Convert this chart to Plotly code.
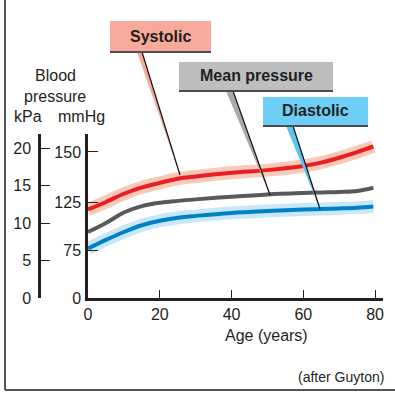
import plotly.graph_objects as go

# ---------------- data (kPa) ----------------
age = [0, 5, 10, 15, 20, 25, 30, 40, 50, 60, 65, 70, 75, 79.5]
systolic_kpa = [11.8, 12.8, 13.9, 14.75, 15.35, 15.9, 16.2, 16.7, 17.05, 17.6, 18.05, 18.7, 19.45, 20.2]
mean_kpa =     [8.8, 10.0, 11.4, 12.25, 12.7, 12.95, 13.15, 13.5, 13.8, 14.0, 14.08, 14.15, 14.27, 14.7]
diastolic_kpa = [6.6, 7.75, 8.8, 9.7, 10.3, 10.7, 10.95, 11.35, 11.6, 11.8, 11.87, 11.95, 12.05, 12.2]

x_ticks = [0, 20, 40, 60, 80]
kpa_ticks = [0, 5, 10, 15, 20]
mmhg_tick_labels = ["0", "75", "125", "150"]
mmhg_tick_at_kpa = [0, 6.4, 12.8, 19.47]   # where the schematic mmHg labels sit on the kPa scale

FONT = "Liberation Sans, Arial, Helvetica, sans-serif"
INK = "#231f20"

# plot-area geometry in pixels
L, T, W, H = 39, 0, 344, 298


def px(x):
    return (x - L) / W


def py(y):
    return (T + H - y) / H


fig = go.Figure()

# halos
fig.add_trace(go.Scatter(x=age, y=systolic_kpa, mode="lines", line=dict(color="#f9cab6", width=13, shape="spline"),
                         hoverinfo="skip", showlegend=False))
fig.add_trace(go.Scatter(x=age, y=diastolic_kpa, mode="lines", line=dict(color="#c8e8f9", width=13, shape="spline"),
                         hoverinfo="skip", showlegend=False))
# main lines
fig.add_trace(go.Scatter(x=age, y=systolic_kpa, mode="lines", name="Systolic",
                         line=dict(color="#ed1c24", width=4, shape="spline"), showlegend=False))
fig.add_trace(go.Scatter(x=age, y=mean_kpa, mode="lines", name="Mean pressure",
                         line=dict(color="#58595b", width=4, shape="spline"), showlegend=False))
fig.add_trace(go.Scatter(x=age, y=diastolic_kpa, mode="lines", name="Diastolic",
                         line=dict(color="#0080c6", width=4, shape="spline"), showlegend=False))
# invisible trace to activate the kPa axis
fig.add_trace(go.Scatter(x=[None], y=[None], yaxis="y2", showlegend=False, hoverinfo="skip"))

y_top_px = 134
y_range = [0, (T + H - y_top_px) / 7.5]

fig.update_layout(
    width=395, height=395,
    margin=dict(l=L, r=395 - L - W, t=T, b=395 - T - H),
    paper_bgcolor="white", plot_bgcolor="white",
    font=dict(family=FONT, color=INK, size=16),
    xaxis=dict(domain=[px(88), 1], range=[0, 82.2], tickvals=x_ticks, ticks="inside", ticklen=8,
               tickwidth=1.3, tickcolor=INK, showline=True, linewidth=2.5, linecolor=INK,
               showgrid=False, zeroline=False, tickfont=dict(size=16), ticklabelstandoff=0),
    yaxis=dict(domain=[0, py(y_top_px)], range=y_range, tickvals=mmhg_tick_at_kpa, ticktext=mmhg_tick_labels,
               ticks="inside", ticklen=10, tickwidth=1.3, tickcolor=INK, showline=True, linewidth=2.5,
               linecolor=INK, showgrid=False, zeroline=False, tickfont=dict(size=16), ticklabelstandoff=1),
    yaxis2=dict(overlaying="y", anchor="free", position=0, side="left", range=y_range, tickvals=kpa_ticks,
                ticks="inside", ticklen=9, tickwidth=1.3, tickcolor=INK, showline=True, linewidth=2.5,
                linecolor=INK, showgrid=False, zeroline=False, tickfont=dict(size=16), ticklabelstandoff=4),
)

shapes = []
# frame (left + bottom)
shapes.append(dict(type="line", xref="paper", yref="paper", x0=px(5), x1=px(5), y0=py(0), y1=py(390),
                   line=dict(color="#555555", width=2)))
shapes.append(dict(type="line", xref="paper", yref="paper", x0=px(5), x1=px(395), y0=py(390), y1=py(390),
                   line=dict(color="#555555", width=2)))

boxes = [
    ("Systolic", 110, 211, 21, 52, "#f7a99c"),
    ("Mean pressure", 179, 333, 62, 91, "#bcbec0"),
    ("Diastolic", 263, 368, 97, 126, "#6dcff6"),
]
pointers = [
    # (wedge left x, wedge right x, top y, tip x, tip y, colour)
    (137, 142, 52, 180, 175, "#f7a99c"),
    (226, 233, 91, 270, 195, "#a7a9ac"),
    (286, 293, 126, 320, 209, "#5bc5f2"),
]
for (lx, rx, ty, tx, tipy, col) in pointers:
    shapes.append(dict(type="path", xref="paper", yref="paper",
                       path=f"M {px(lx)},{py(ty)} L {px(rx)},{py(ty)} L {px(tx)},{py(tipy)} Z",
                       fillcolor=col, line=dict(width=0)))
    shapes.append(dict(type="line", xref="paper", yref="paper", x0=px(rx), y0=py(ty), x1=px(tx), y1=py(tipy),
                       line=dict(color="#111111", width=1.2)))

annotations = []
for (label, x0, x1, y0, y1, col) in boxes:
    shapes.append(dict(type="rect", xref="paper", yref="paper", x0=px(x0), x1=px(x1), y0=py(y0), y1=py(y1),
                       fillcolor=col, line=dict(width=0)))
    shapes.append(dict(type="line", xref="paper", yref="paper", x0=px(x0), x1=px(x1), y0=py(y1), y1=py(y1),
                       line=dict(color="#4d4d4f", width=1.8)))
    annotations.append(dict(xref="paper", yref="paper", x=px((x0 + x1) / 2), y=py((y0 + y1) / 2 - 0.5),
                            text=f"<b>{label}</b>", showarrow=False, xanchor="center", yanchor="middle",
                            font=dict(size=16, color=INK)))

for (txt, x, y, size) in [("Blood", 55, 76, 16), ("pressure", 55, 96, 16), ("kPa", 27.5, 116.5, 16),
                          ("mmHg", 81, 116.5, 16), ("Age (years)", 266, 335, 16),
                          ("(after Guyton)", 341, 377, 14)]:
    annotations.append(dict(xref="paper", yref="paper", x=px(x), y=py(y), text=txt, showarrow=False,
                            xanchor="center", yanchor="middle", font=dict(size=size, color=INK)))

fig.update_layout(shapes=shapes, annotations=annotations)

fig.write_html("out.html", config={"displayModeBar": False},
               post_script="document.body.style.margin='0';")
